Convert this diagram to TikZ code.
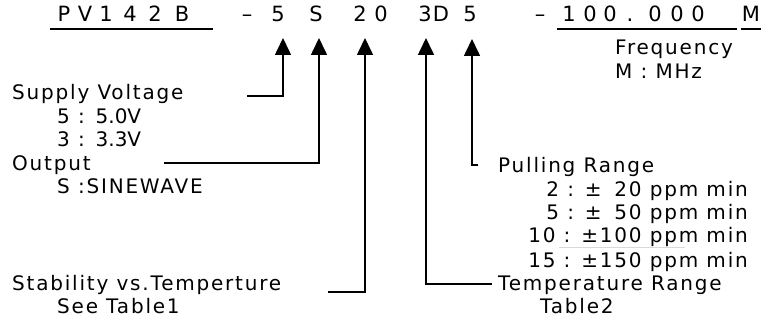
\documentclass[tikz,border=0pt]{standalone}
\usepackage{fontspec}
\setmainfont{DejaVu Sans}
\newfontfamily\spc[LetterSpace=9]{DejaVu Sans}
\newfontfamily\tgt{DejaVu Sans}
\usetikzlibrary{arrows.meta}
\begin{document}
\begin{tikzpicture}[x=1pt,y=-1pt,
  lbl/.style={inner sep=0pt, anchor=base west, font=\spc\fontsize{20}{23}\selectfont},
  rlbl/.style={lbl, anchor=base east},
  code/.style={inner sep=0pt, anchor=base, font=\tgt\fontsize{21}{24}\selectfont},
  ul/.style={line width=1.8pt},
  conn/.style={line width=1.6pt, -{Triangle[width=16pt,length=17pt]}},
]
\fill[white] (0,0) rectangle (778,320);
\useasboundingbox (0,0) rectangle (778,320);

% part number characters
\foreach \x/\c [count=\i] in {64/P,85/V,106/1,130/4,155/2,182/B,247/–,278/5,316/S,360/2,381/0,425/3,441/D,470/5,540/–,569/1,590/0,610/0,630/.,655/0,677/0,698/0,751/M}
  \node[code] (c\i) at (\x,22) {\c};
\draw[ul] (50,29) -- (213,29);
\draw[ul] (557,29) -- (737,29);
\draw[ul] (741,29) -- (761,29);

% labels, left
\node[lbl] (sv)  at (12,100) {Supply Voltage};
\node[lbl] (sv1) at (57,124) {5 : {\tgt 5.0V}};
\node[lbl] (sv2) at (57,147) {3 : {\tgt 3.3V}};
\node[lbl] (out) at (12,171) {Output};
\node[lbl] (out1) at (57,194) {S :SINEWAVE};
\node[lbl] (st)  at (12,290) {Stability vs.Temperture};
\node[lbl] (st1) at (57,313) {See Table1};

% labels, right
\node[lbl] (fr)  at (615,55) {Frequency};
\node[lbl] (fr1) at (615,79) {M : MHz};
\node[lbl] (pr)  at (498,173) {Pulling Range};
\node[rlbl] (pr1) at (748,197) {2 : ±\phantom{0}20 ppm min};
\node[rlbl] (pr2) at (748,220) {5 : ±\phantom{0}50 ppm min};
\node[rlbl] (pr3) at (748,243) {10 : ±100 ppm min};
\node[rlbl] (pr4) at (748,267) {15 : ±150 ppm min};
\node[lbl] (tr)  at (498,290) {Temperature Range};
\node[lbl] (tr1) at (540,313) {Table2};
\draw[gray!30, line width=1pt] (559,247) -- (685,247);

% connector ends
\coordinate (t1) at (283,38);
\coordinate (t2) at (319,38);
\coordinate (t3) at (365,38);
\coordinate (t4) at (426,38);
\coordinate (t5) at (472,39);
\coordinate (e1) at (247,96);
\coordinate (e2) at (164,163);
\coordinate (e3) at (328,292);
\coordinate (e4) at (492,284);
\coordinate (e5) at (478,165);

\draw[conn] (e1) -| (t1);
\draw[conn] (e2) -| (t2);
\draw[conn] (e3) -| (t3);
\draw[conn] (e4) -| (t4);
\draw[conn] (e5) -| (t5);
\end{tikzpicture}
\end{document}
